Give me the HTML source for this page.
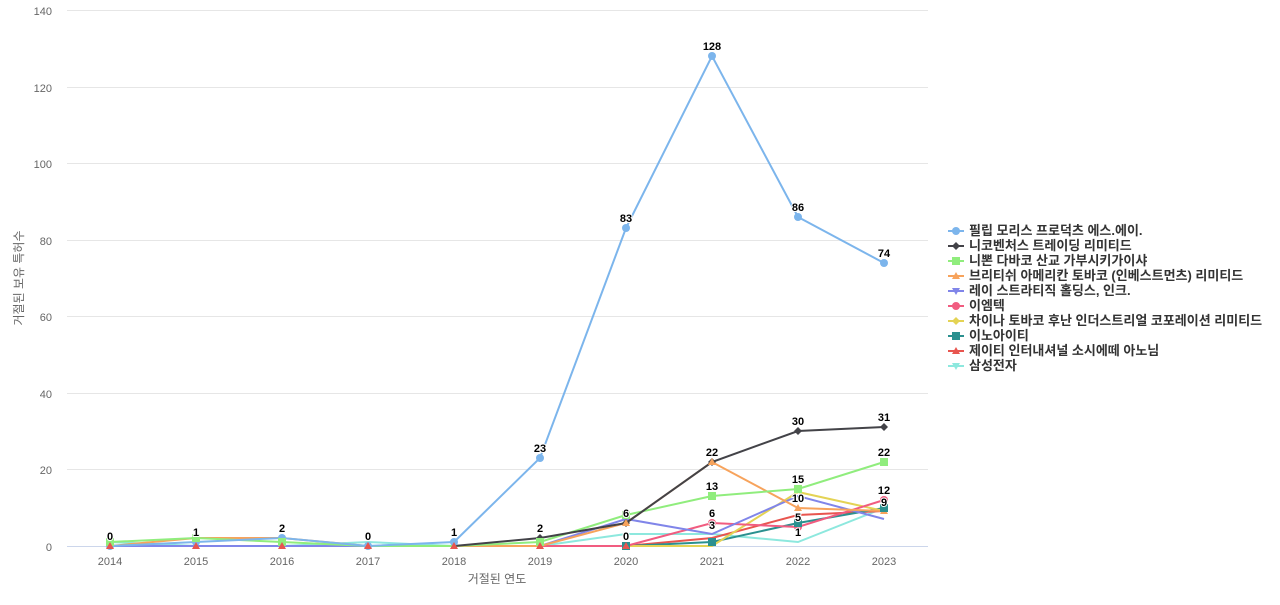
<!DOCTYPE html>
<html><head><meta charset="utf-8"><style>
body{margin:0;background:#fff;width:1280px;height:600px;overflow:hidden}
text{font-family:"Liberation Sans","Noto Sans CJK KR",sans-serif}
</style></head><body>
<svg width="1280" height="600" xmlns="http://www.w3.org/2000/svg">
<g stroke="#e6e6e6" stroke-width="1">
<line x1="67" x2="928" y1="10.5" y2="10.5"/><line x1="67" x2="928" y1="87.5" y2="87.5"/><line x1="67" x2="928" y1="163.5" y2="163.5"/><line x1="67" x2="928" y1="240.5" y2="240.5"/><line x1="67" x2="928" y1="316.5" y2="316.5"/><line x1="67" x2="928" y1="393.5" y2="393.5"/><line x1="67" x2="928" y1="469.5" y2="469.5"/>
</g>
<line x1="67" x2="928" y1="546.5" y2="546.5" stroke="#ccd6eb"/>
<g font-size="11" fill="#666" text-anchor="end">
<text x="52" y="15">140</text><text x="52" y="92">120</text><text x="52" y="168">100</text><text x="52" y="245">80</text><text x="52" y="321">60</text><text x="52" y="398">40</text><text x="52" y="474">20</text><text x="52" y="551">0</text>
</g>
<g font-size="11" fill="#666" text-anchor="middle">
<text x="110" y="565">2014</text><text x="196" y="565">2015</text><text x="282" y="565">2016</text><text x="368" y="565">2017</text><text x="454" y="565">2018</text><text x="540" y="565">2019</text><text x="626" y="565">2020</text><text x="712" y="565">2021</text><text x="798" y="565">2022</text><text x="884" y="565">2023</text>
<text x="497" y="583" font-size="12">거절된 연도</text>
</g>
<text transform="translate(23,278) rotate(-90)" font-size="12" fill="#666" text-anchor="middle">거절된 보유 특허수</text>
<g fill="none" stroke-width="2">
<polyline stroke="#8de8de" points="110,542 196,546 282,546 368,542 454,546 540,546 626,534 712,534 798,542 884,508"/>
<polyline stroke="#e8554f" points="110,546 196,546 282,546 368,546 454,546 540,546 626,546 712,538 798,515 884,511"/>
<polyline stroke="#2b908f" points="110,546 196,546 282,546 368,546 454,546 540,546 626,546 712,542 798,523 884,508"/>
<polyline stroke="#e4d354" points="110,546 196,546 282,546 368,546 454,546 540,546 626,546 712,546 798,492 884,511"/>
<polyline stroke="#f15c80" points="110,546 196,546 282,546 368,546 454,546 540,546 626,546 712,523 798,527 884,500"/>
<polyline stroke="#8085e9" points="110,546 196,546 282,546 368,546 454,546 540,546 626,519 712,534 798,496 884,519"/>
<polyline stroke="#f7a35c" points="110,546 196,538 282,538 368,546 454,546 540,546 626,523 712,462 798,508 884,511"/>
<polyline stroke="#90ed7d" points="110,542 196,538 282,542 368,546 454,546 540,542 626,515 712,496 798,489 884,462"/>
<polyline stroke="#434348" points="454,546 540,538 626,523 712,462 798,431 884,427"/>
<polyline stroke="#7cb5ec" points="110,546 196,542 282,538 368,546 454,542 540,458 626,228 712,56 798,217 884,263"/>
</g>
<g>
<g fill="#7cb5ec"><circle cx="110" cy="546" r="4"/><circle cx="196" cy="542" r="4"/><circle cx="282" cy="538" r="4"/><circle cx="368" cy="546" r="4"/><circle cx="454" cy="542" r="4"/><circle cx="540" cy="458" r="4"/><circle cx="626" cy="228" r="4"/><circle cx="712" cy="56" r="4"/><circle cx="798" cy="217" r="4"/><circle cx="884" cy="263" r="4"/></g>
<g fill="#434348"><path d="M540,534l4,4l-4,4l-4,-4z M626,519l4,4l-4,4l-4,-4z M712,458l4,4l-4,4l-4,-4z M798,427l4,4l-4,4l-4,-4z M884,423l4,4l-4,4l-4,-4z"/></g>
<g fill="#90ed7d"><rect x="106" y="538" width="8" height="8"/><rect x="192" y="534" width="8" height="8"/><rect x="278" y="538" width="8" height="8"/><rect x="536" y="538" width="8" height="8"/><rect x="622" y="511" width="8" height="8"/><rect x="708" y="492" width="8" height="8"/><rect x="794" y="485" width="8" height="8"/><rect x="880" y="458" width="8" height="8"/></g>
<g fill="#f7a35c"><path d="M712,458l4,7h-8z M798,504l4,7h-8z M626,519l4,7h-8z M884,507l4,7h-8z"/></g>
<g fill="#f15c80"><circle cx="712" cy="523" r="4"/><circle cx="798" cy="527" r="4"/><circle cx="884" cy="500" r="4"/></g>
<g fill="#2b908f"><rect x="622" y="542" width="8" height="8"/><rect x="708" y="538" width="8" height="8"/><rect x="794" y="519" width="8" height="8"/><rect x="880" y="504" width="8" height="8"/></g>
<g fill="#e8554f"><path d="M626,542l4,7h-8z M110,542l4,7h-8z M196,542l4,7h-8z M282,542l4,7h-8z M368,542l4,7h-8z M454,542l4,7h-8z M540,542l4,7h-8z"/></g>
</g>
<g font-size="11" font-weight="bold" fill="#000" text-anchor="middle" stroke="#fff" stroke-width="2" paint-order="stroke">
<text x="110" y="540">0</text><text x="196" y="536">1</text><text x="282" y="532">2</text><text x="368" y="540">0</text><text x="454" y="536">1</text><text x="540" y="452">23</text><text x="626" y="222">83</text><text x="712" y="50">128</text><text x="798" y="211">86</text><text x="884" y="257">74</text>
<text x="540" y="532">2</text><text x="626" y="517">6</text><text x="626" y="540">0</text><text x="712" y="456">22</text><text x="712" y="490">13</text><text x="712" y="517">6</text><text x="712" y="529">3</text><text x="798" y="425">30</text><text x="798" y="483">15</text><text x="798" y="502">10</text><text x="798" y="521">5</text><text x="798" y="536">1</text><text x="884" y="421">31</text><text x="884" y="456">22</text><text x="884" y="494">12</text><text x="884" y="506">9</text>
</g>
<g font-size="13" font-weight="bold" fill="#333">
<g transform="translate(948,231)"><line x1="0" x2="16" stroke="#7cb5ec" stroke-width="2"/><circle cx="8" r="4" fill="#7cb5ec"/><text x="21" y="4">필립 모리스 프로덕츠 에스.에이.</text></g>
<g transform="translate(948,246)"><line x1="0" x2="16" stroke="#434348" stroke-width="2"/><path d="M8,-4l4,4l-4,4l-4,-4z" fill="#434348"/><text x="21" y="4">니코벤처스 트레이딩 리미티드</text></g>
<g transform="translate(948,261)"><line x1="0" x2="16" stroke="#90ed7d" stroke-width="2"/><rect x="4" y="-4" width="8" height="8" fill="#90ed7d"/><text x="21" y="4">니뽄 다바코 산교 가부시키가이샤</text></g>
<g transform="translate(948,276)"><line x1="0" x2="16" stroke="#f7a35c" stroke-width="2"/><path d="M8,-4l4,7h-8z" fill="#f7a35c"/><text x="21" y="4">브리티쉬 아메리칸 토바코 (인베스트먼츠) 리미티드</text></g>
<g transform="translate(948,291)"><line x1="0" x2="16" stroke="#8085e9" stroke-width="2"/><path d="M8,4l4,-7h-8z" fill="#8085e9"/><text x="21" y="4">레이 스트라티직 홀딩스, 인크.</text></g>
<g transform="translate(948,306)"><line x1="0" x2="16" stroke="#f15c80" stroke-width="2"/><circle cx="8" r="4" fill="#f15c80"/><text x="21" y="4">이엠텍</text></g>
<g transform="translate(948,321)"><line x1="0" x2="16" stroke="#e4d354" stroke-width="2"/><path d="M8,-4l4,4l-4,4l-4,-4z" fill="#e4d354"/><text x="21" y="4">차이나 토바코 후난 인더스트리얼 코포레이션 리미티드</text></g>
<g transform="translate(948,336)"><line x1="0" x2="16" stroke="#2b908f" stroke-width="2"/><rect x="4" y="-4" width="8" height="8" fill="#2b908f"/><text x="21" y="4">이노아이티</text></g>
<g transform="translate(948,351)"><line x1="0" x2="16" stroke="#e8554f" stroke-width="2"/><path d="M8,-4l4,7h-8z" fill="#e8554f"/><text x="21" y="4">제이티 인터내셔널 소시에떼 아노님</text></g>
<g transform="translate(948,366)"><line x1="0" x2="16" stroke="#8de8de" stroke-width="2"/><path d="M8,4l4,-7h-8z" fill="#8de8de"/><text x="21" y="4">삼성전자</text></g>
</g>
</svg>
</body></html>
